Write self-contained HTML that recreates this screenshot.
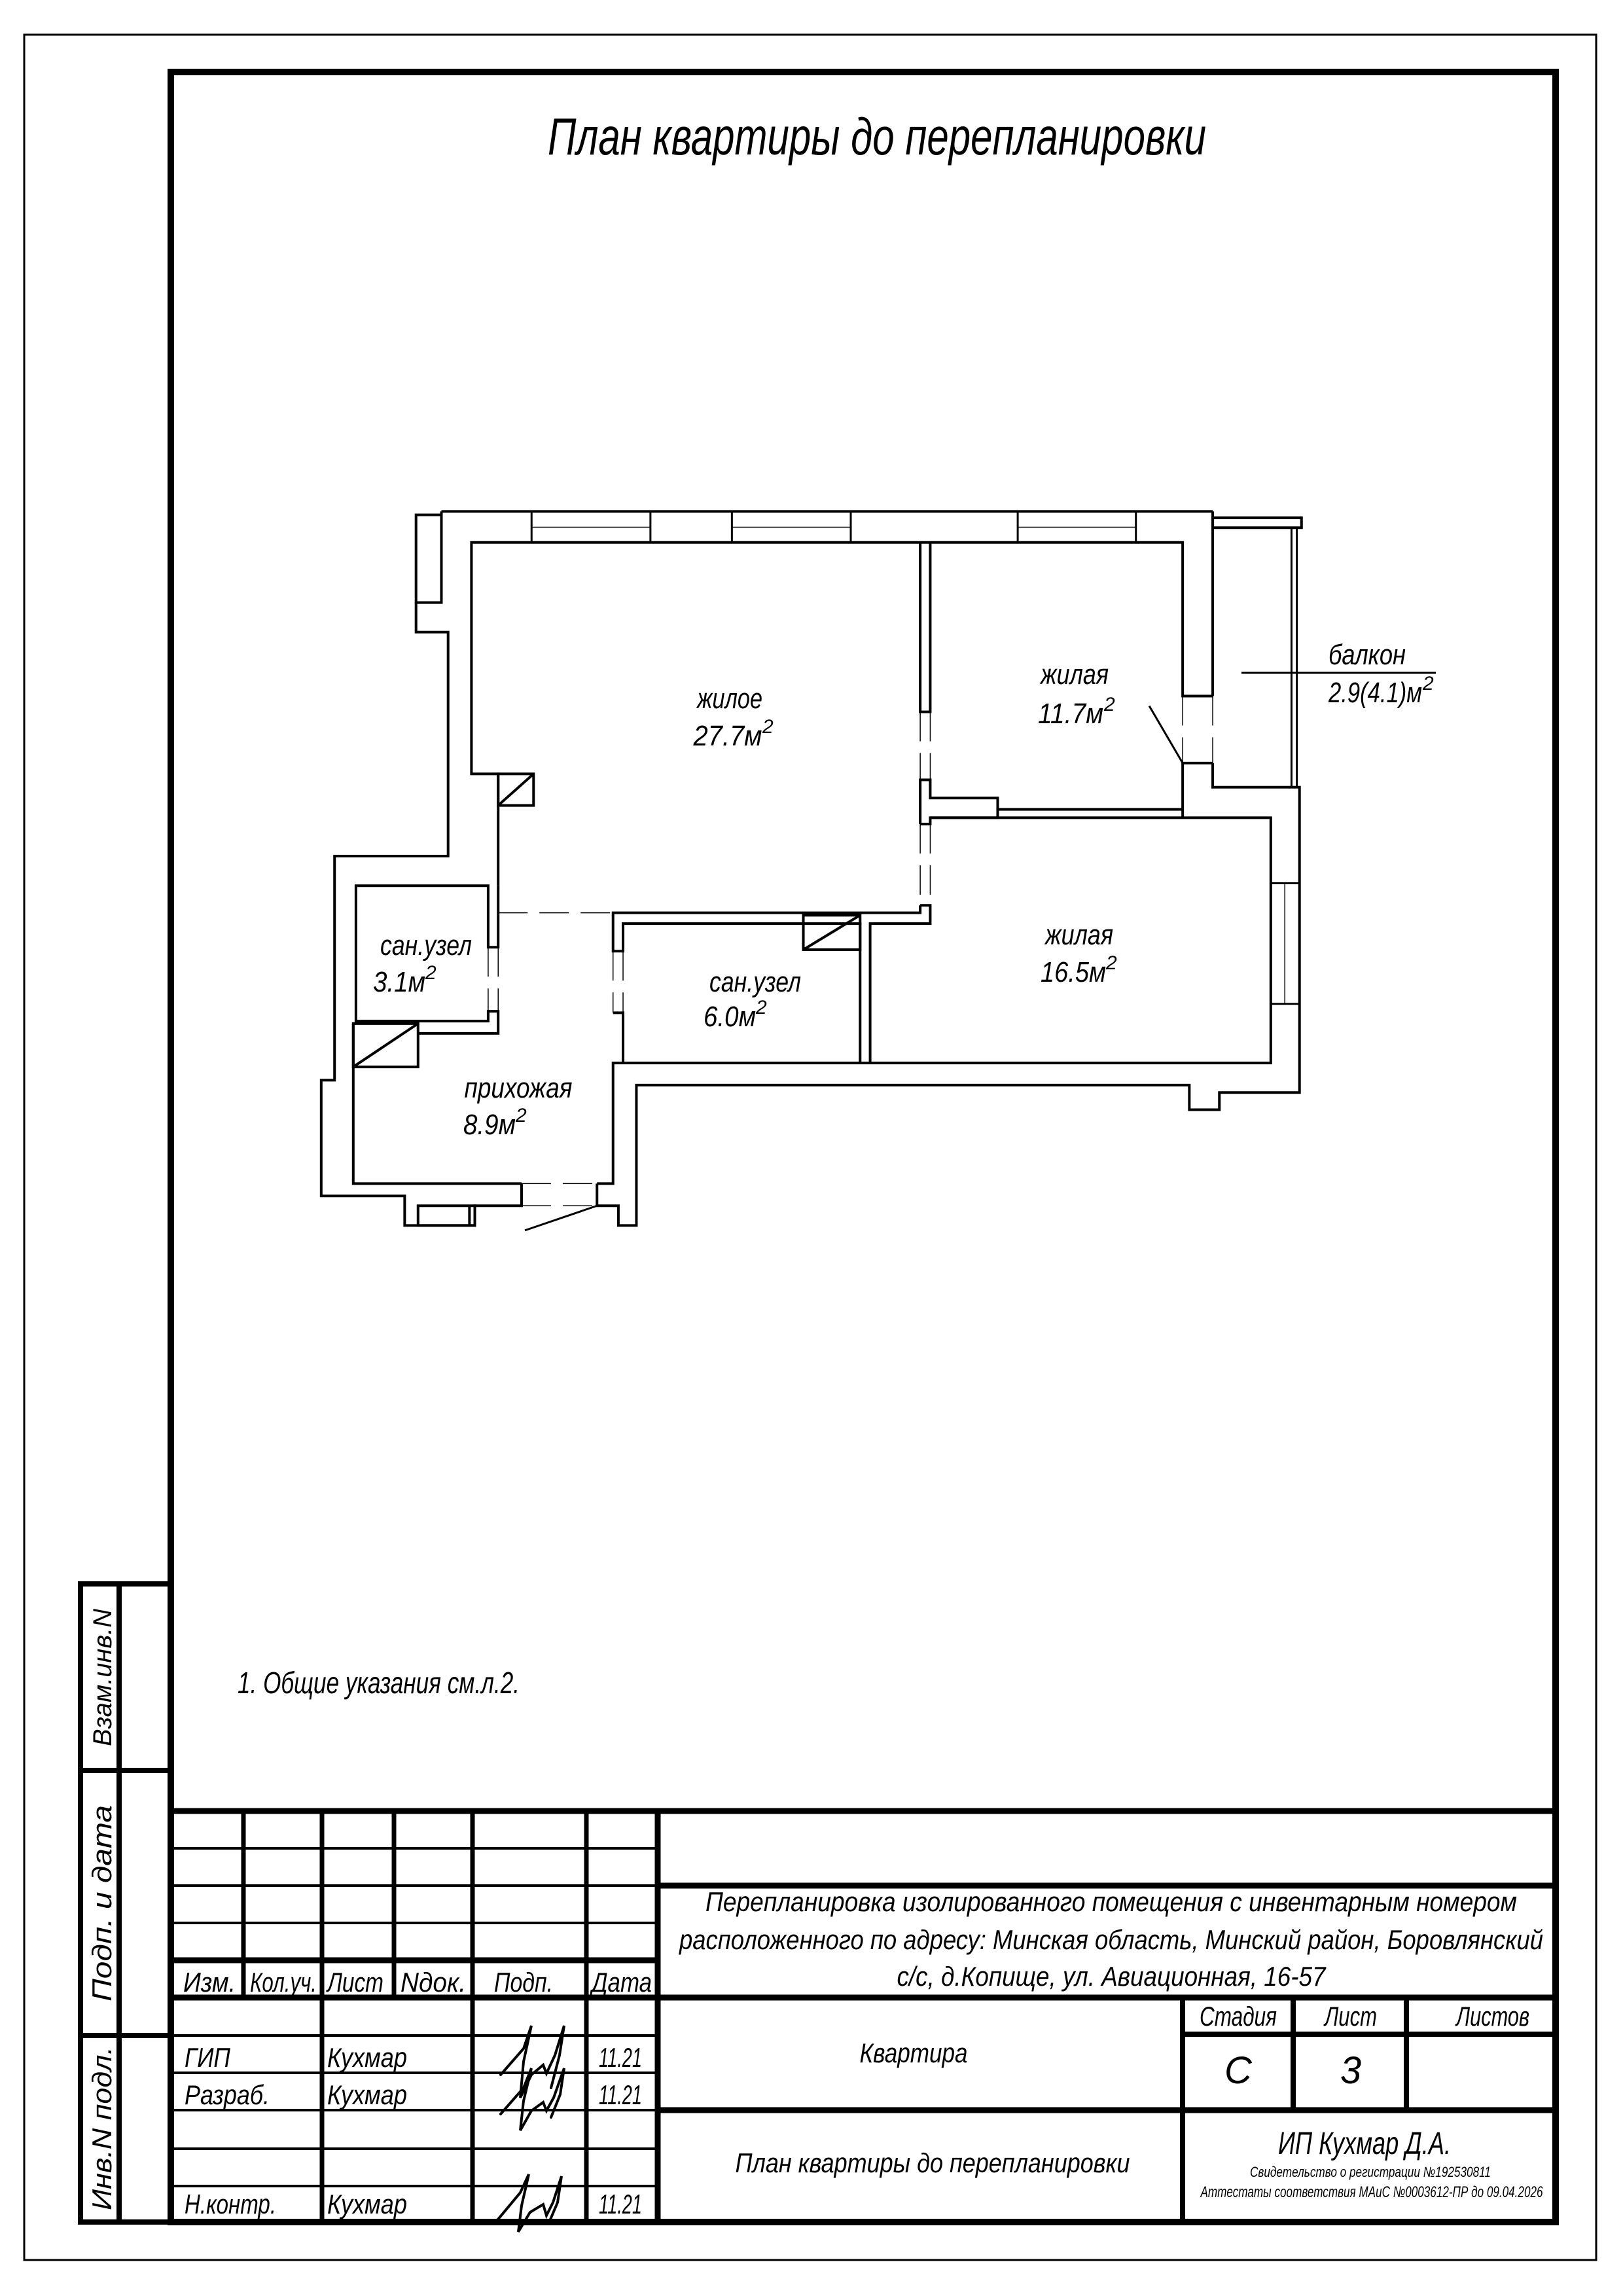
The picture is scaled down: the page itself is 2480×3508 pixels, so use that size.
<!DOCTYPE html>
<html><head><meta charset="utf-8"><style>
html,body{margin:0;padding:0;background:#fff}
svg{display:block}
text{font-family:"Liberation Sans","DejaVu Sans",sans-serif;font-style:italic;fill:#000}
.p *{vector-effect:non-scaling-stroke}
</style></head><body>
<svg width="2480" height="3508" viewBox="0 0 2480 3508" xmlns="http://www.w3.org/2000/svg">
<rect width="2480" height="3508" fill="#fff"/>
<rect x="37" y="53" width="2402" height="3400" fill="none" stroke="#000" stroke-width="3"/>
<rect x="261" y="110" width="2116" height="3285" fill="none" stroke="#000" stroke-width="10"/>
<g stroke="#000" stroke-width="8" fill="none">
<polyline points="261,2420 123,2420 123,3395 261,3395"/>
<line x1="182" y1="2420" x2="182" y2="3395"/>
<line x1="123" y1="2705" x2="261" y2="2705"/>
<line x1="123" y1="3110" x2="261" y2="3110"/>
</g>
<text transform="translate(170,2563) rotate(-90)" font-size="40" text-anchor="middle" textLength="210" lengthAdjust="spacingAndGlyphs">Взам.инв.N</text>
<text transform="translate(170,2908) rotate(-90)" font-size="42" text-anchor="middle" textLength="300" lengthAdjust="spacingAndGlyphs">Подп.  и  дата</text>
<text transform="translate(170,3252) rotate(-90)" font-size="42" text-anchor="middle" textLength="250" lengthAdjust="spacingAndGlyphs">Инв.N подл.</text>

<text x="837" y="236" font-size="80" textLength="1006" lengthAdjust="spacingAndGlyphs">План квартиры до перепланировки</text>

<g stroke="#000" fill="none">
<line x1="261" y1="2767" x2="2377" y2="2767" stroke-width="9"/>
<line x1="1005" y1="2767" x2="1005" y2="3395" stroke-width="9"/>
<line x1="1005" y1="2881" x2="2377" y2="2881" stroke-width="9"/>
<line x1="261" y1="3052" x2="2377" y2="3052" stroke-width="9"/>
<line x1="261" y1="2995" x2="1005" y2="2995" stroke-width="9"/>
<line x1="1807" y1="3108" x2="2377" y2="3108" stroke-width="8"/>
<line x1="1005" y1="3224" x2="2377" y2="3224" stroke-width="9"/>
<line x1="1807" y1="3052" x2="1807" y2="3395" stroke-width="8"/>
<line x1="1976" y1="3052" x2="1976" y2="3224" stroke-width="8"/>
<line x1="2149" y1="3052" x2="2149" y2="3224" stroke-width="8"/>
<g stroke-width="4">
<line x1="261" y1="2824" x2="1005" y2="2824"/>
<line x1="261" y1="2881" x2="1005" y2="2881"/>
<line x1="261" y1="2938" x2="1005" y2="2938"/>
<line x1="261" y1="3110" x2="1005" y2="3110"/>
<line x1="261" y1="3167" x2="1005" y2="3167"/>
<line x1="261" y1="3224" x2="1005" y2="3224"/>
<line x1="261" y1="3283" x2="1005" y2="3283"/>
<line x1="261" y1="3340" x2="1005" y2="3340"/>
</g>
<g stroke-width="7">
<line x1="372" y1="2767" x2="372" y2="3052"/>
<line x1="602" y1="2767" x2="602" y2="3052"/>
<line x1="492" y1="2767" x2="492" y2="3395"/>
<line x1="722" y1="2767" x2="722" y2="3395"/>
<line x1="896" y1="2767" x2="896" y2="3395"/>
</g>
</g>
<g font-size="42">
<text x="280" y="3043" textLength="80" lengthAdjust="spacingAndGlyphs">Изм.</text>
<text x="382" y="3043" textLength="102" lengthAdjust="spacingAndGlyphs">Кол.уч.</text>
<text x="500" y="3043" textLength="86" lengthAdjust="spacingAndGlyphs">Лист</text>
<text x="612" y="3043" textLength="100" lengthAdjust="spacingAndGlyphs">Nдок.</text>
<text x="755" y="3043" textLength="90" lengthAdjust="spacingAndGlyphs">Подп.</text>
<text x="904" y="3043" textLength="92" lengthAdjust="spacingAndGlyphs">Дата</text>
<text x="282" y="3158" textLength="70" lengthAdjust="spacingAndGlyphs">ГИП</text>
<text x="282" y="3215" textLength="130" lengthAdjust="spacingAndGlyphs">Разраб.</text>
<text x="282" y="3382" textLength="140" lengthAdjust="spacingAndGlyphs">Н.контр.</text>
<text x="500" y="3158" textLength="122" lengthAdjust="spacingAndGlyphs">Кухмар</text>
<text x="500" y="3215" textLength="122" lengthAdjust="spacingAndGlyphs">Кухмар</text>
<text x="500" y="3382" textLength="122" lengthAdjust="spacingAndGlyphs">Кухмар</text>
<text x="915" y="3158" textLength="66" lengthAdjust="spacingAndGlyphs">11.21</text>
<text x="915" y="3215" textLength="66" lengthAdjust="spacingAndGlyphs">11.21</text>
<text x="915" y="3382" textLength="66" lengthAdjust="spacingAndGlyphs">11.21</text>
</g>
<g stroke="#000" stroke-width="4" fill="none" stroke-linecap="round">
<path d="M765,3170 L800,3130 L812,3095 L800,3150 L795,3205 L812,3170 L830,3155 L835,3168 L848,3140 L862,3095 L855,3140 L842,3190"/>
<path d="M765,3230 L800,3190 L812,3160 L800,3210 L795,3255 L812,3225 L830,3212 L835,3225 L846,3205 L862,3160 L856,3200 L842,3235"/>
<path d="M760,3392 L795,3350 L808,3322 L797,3370 L792,3410 L810,3380 L830,3368 L835,3385 L845,3365 L858,3325 L852,3365 L838,3398"/>
</g>
<g font-size="42" text-anchor="middle">
<text x="1698" y="2920" textLength="1240" lengthAdjust="spacingAndGlyphs">Перепланировка изолированного помещения с инвентарным номером</text>
<text x="1698" y="2978" textLength="1320" lengthAdjust="spacingAndGlyphs">расположенного по адресу: Минская область, Минский район, Боровлянский</text>
<text x="1698" y="3034" textLength="655" lengthAdjust="spacingAndGlyphs">с/с, д.Копище, ул. Авиационная, 16-57</text>
<text x="1396" y="3151" textLength="165" lengthAdjust="spacingAndGlyphs">Квартира</text>
<text x="1892" y="3095" textLength="118" lengthAdjust="spacingAndGlyphs">Стадия</text>
<text x="2064" y="3095" textLength="80" lengthAdjust="spacingAndGlyphs">Лист</text>
<text x="2281" y="3095" textLength="112" lengthAdjust="spacingAndGlyphs">Листов</text>
<text x="1892" y="3183" font-size="58">С</text>
<text x="2064" y="3183" font-size="58">3</text>
<text x="1425" y="3319" textLength="603" lengthAdjust="spacingAndGlyphs">План квартиры до перепланировки</text>
<text x="2085" y="3291" font-size="48" textLength="264" lengthAdjust="spacingAndGlyphs">ИП Кухмар Д.А.</text>
<text x="2094" y="3326" font-size="22" textLength="368" lengthAdjust="spacingAndGlyphs">Свидетельство о регистрации №192530811</text>
<text x="2096" y="3357" font-size="24" textLength="523" lengthAdjust="spacingAndGlyphs">Аттестаты соответствия МАиС №0003612-ПР до 09.04.2026</text>
</g>

<text x="363" y="2587" font-size="46" textLength="431" lengthAdjust="spacingAndGlyphs">1. Общие указания см.л.2.</text>

<g class="p" transform="translate(450 740) scale(1.0204 0.7524)" fill="none" stroke="#000" stroke-width="4">
<line x1="220" y1="55" x2="1375" y2="55"/>
<rect x="182" y="62" width="38" height="178"/>
<polyline points="220,55 220,62"/>
<polyline points="182,240 182,300 230,300 230,755 60,755 60,1210 40,1210 40,1445 165,1445 165,1505 270,1505 270,1465 340,1465 340,1420"/>
<rect x="185" y="1465" width="85" height="40"/>
<line x1="262" y1="1465" x2="262" y2="1505"/>
<polyline points="453,1420 453,1465 485,1465 485,1505 512,1505 512,1220 1340,1220 1340,1270 1385,1270 1385,1235 1505,1235 1505,615 1375,615 1375,566"/>
<line x1="1375" y1="55" x2="1375" y2="430"/>
<polyline points="88,1095 88,1420 340,1420"/>
<polyline points="453,1420 477,1420 477,1175 1462,1175 1462,677 952,677"/>
<rect x="88" y="1095" width="97" height="88"/>
<line x1="88" y1="1183" x2="185" y2="1095"/>
<polyline points="185,1115 305,1115 305,1070 290,1070 290,1090 92,1090 92,815 290,815 290,940 305,940 305,815"/>
<polyline points="305,815 305,652 305,588 265,588 265,118 1330,118 1330,430 1375,430"/>
<rect x="305" y="588" width="53" height="64"/>
<line x1="305" y1="652" x2="358" y2="588"/>
<g stroke-width="3">
<line x1="355" y1="55" x2="355" y2="118"/><line x1="533" y1="55" x2="533" y2="118"/>
<line x1="655" y1="55" x2="655" y2="118"/><line x1="833" y1="55" x2="833" y2="118"/>
<line x1="1083" y1="55" x2="1083" y2="118"/><line x1="1260" y1="55" x2="1260" y2="118"/>
</g>
<g stroke-width="1.5">
<line x1="355" y1="87" x2="533" y2="87"/><line x1="655" y1="87" x2="833" y2="87"/><line x1="1083" y1="87" x2="1260" y2="87"/>
</g>
<polyline points="937,118 937,462 952,462 952,118"/>
<polyline points="937,690 937,600 952,600 952,637 1053,637 1053,677 952,677 952,690 937,690"/>
<line x1="1053" y1="660" x2="1330" y2="660"/>
<line x1="1053" y1="660" x2="1053" y2="677"/>
<polyline points="1330,677 1330,566 1375,566"/>
<line x1="1280" y1="450" x2="1330" y2="566" stroke-width="3"/>
<polyline points="937,855 952,855 952,892 862,892 862,1175"/>
<polyline points="937,855 937,870 477,870 477,948 492,948 492,892 847,892 847,1175"/>
<polyline points="477,1073 492,1073 492,1175"/>
<rect x="762" y="875" width="85" height="70"/>
<line x1="762" y1="945" x2="847" y2="875"/>
<line x1="1462" y1="810" x2="1505" y2="810" stroke-width="3"/>
<line x1="1462" y1="1055" x2="1505" y2="1055" stroke-width="3"/>
<line x1="1483" y1="810" x2="1483" y2="1055" stroke-width="1.5"/>
<rect x="1375" y="68" width="133" height="20"/>
<line x1="1493" y1="88" x2="1493" y2="615" stroke-width="3"/>
<line x1="1501" y1="88" x2="1501" y2="615" stroke-width="3"/>
<g stroke-width="1.5" stroke-dasharray="45 18">
<line x1="937" y1="462" x2="937" y2="600"/><line x1="952" y1="462" x2="952" y2="600"/>
<line x1="937" y1="690" x2="937" y2="855"/><line x1="952" y1="690" x2="952" y2="855"/>
<line x1="1330" y1="430" x2="1330" y2="566"/><line x1="1375" y1="430" x2="1375" y2="566"/>
<line x1="305" y1="870" x2="477" y2="870"/>
<line x1="290" y1="940" x2="290" y2="1070"/><line x1="305" y1="940" x2="305" y2="1070"/>
<line x1="477" y1="948" x2="477" y2="1073"/><line x1="492" y1="948" x2="492" y2="1073"/>
<line x1="340" y1="1420" x2="453" y2="1420"/><line x1="340" y1="1465" x2="453" y2="1465"/>
</g>
<line x1="453" y1="1465" x2="345" y2="1515" stroke-width="3"/>
</g>
<line x1="1897" y1="1028" x2="2194" y2="1028" stroke="#000" stroke-width="3"/>

<g font-size="44" text-anchor="middle">
<text x="1115" y="1082" textLength="100" lengthAdjust="spacingAndGlyphs">жилое</text>
<text x="1112" y="1139" textLength="105" lengthAdjust="spacingAndGlyphs">27.7м</text>
<text x="1642" y="1045" textLength="104" lengthAdjust="spacingAndGlyphs">жилая</text>
<text x="1636" y="1105" textLength="100" lengthAdjust="spacingAndGlyphs">11.7м</text>
<text x="1649" y="1443" textLength="104" lengthAdjust="spacingAndGlyphs">жилая</text>
<text x="1640" y="1500" textLength="100" lengthAdjust="spacingAndGlyphs">16.5м</text>
<text x="651" y="1459" textLength="140" lengthAdjust="spacingAndGlyphs">сан.узел</text>
<text x="610" y="1515" textLength="80" lengthAdjust="spacingAndGlyphs">3.1м</text>
<text x="1154" y="1515" textLength="140" lengthAdjust="spacingAndGlyphs">сан.узел</text>
<text x="1115" y="1568" textLength="80" lengthAdjust="spacingAndGlyphs">6.0м</text>
<text x="792" y="1677" textLength="165" lengthAdjust="spacingAndGlyphs">прихожая</text>
<text x="748" y="1733" textLength="80" lengthAdjust="spacingAndGlyphs">8.9м</text>
</g>
<g font-size="30">
<text x="1165" y="1120">2</text>
<text x="1687" y="1086">2</text>
<text x="1690" y="1481">2</text>
<text x="650" y="1496">2</text>
<text x="1155" y="1549">2</text>
<text x="788" y="1714">2</text>
<text x="2174" y="1054">2</text>
</g>
<text x="2030" y="1015" font-size="44" textLength="118" lengthAdjust="spacingAndGlyphs">балкон</text>
<text x="2030" y="1073" font-size="44" textLength="143" lengthAdjust="spacingAndGlyphs">2.9(4.1)м</text>
</svg>
</body></html>
